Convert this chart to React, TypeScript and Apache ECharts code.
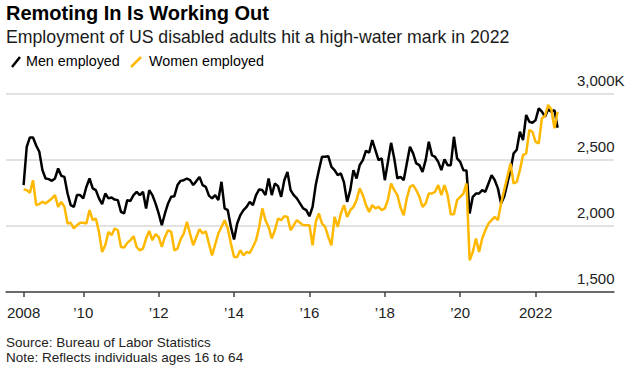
import React, { useEffect, useRef } from "react";
import * as echarts from "echarts";

// Monthly series, starting June 2008 (thousands of people)
const startYear = 2008;
const startMonth = 6;

const menEmployed = [
  2310, 2600, 2671, 2671, 2610, 2562, 2423, 2360, 2355, 2342,
  2360, 2436, 2380, 2372, 2246, 2158, 2145, 2234, 2234, 2209,
  2297, 2360, 2285, 2272, 2209, 2166, 2246, 2209, 2216, 2200,
  2196, 2107, 2095, 2196, 2190, 2234, 2259, 2234, 2259, 2133,
  2272, 2234, 2171, 2095, 2006, 2095, 2171, 2221, 2226, 2310,
  2342, 2347, 2360, 2347, 2310, 2340, 2372, 2310, 2297, 2230,
  2209, 2234, 2196, 2335, 2133, 2120, 1993, 1898, 2019, 2082,
  2120, 2145, 2183, 2158, 2234, 2277, 2272, 2234, 2360, 2234,
  2322, 2302, 2221, 2347, 2410, 2272, 2234, 2209, 2171, 2133,
  2120, 2074, 2145, 2310, 2423, 2524, 2524, 2529, 2448, 2423,
  2385, 2398, 2330, 2183, 2272, 2423, 2360, 2461, 2499, 2570,
  2555, 2651, 2575, 2499, 2512, 2347, 2486, 2630, 2512, 2360,
  2372, 2347, 2474, 2600, 2550, 2474, 2461, 2410, 2499, 2638,
  2537, 2524, 2486, 2423, 2504, 2461, 2461, 2676, 2512, 2486,
  2423, 2420, 2095, 2221, 2246, 2246, 2272, 2259, 2322, 2385,
  2347, 2285, 2171, 2221, 2322, 2423, 2550, 2578, 2714, 2651,
  2841, 2790, 2782, 2802, 2891, 2866, 2828, 2884, 2866, 2878,
  2745,
];

const womenEmployed = [
  2277, 2272, 2251, 2347, 2158, 2166, 2183, 2171, 2190, 2209,
  2234, 2145, 2183, 2145, 2019, 2024, 1981, 2006, 2024, 2024,
  2019, 2120, 2044, 2057, 1955, 1803, 1854, 1955, 1930, 1981,
  1968, 1841, 1837, 1872, 1892, 1923, 1841, 1816, 1829, 1905,
  1963, 1892, 1938, 1917, 1841, 1917, 1968, 1955, 1816, 1829,
  1900, 1943, 2031, 1940, 1854, 1917, 1975, 1943, 1960, 1867,
  1778, 1860, 1943, 1993, 2044, 1981, 1867, 1766, 1766, 1816,
  1778, 1803, 1796, 1841, 1892, 1993, 2133, 2044, 1993, 1905,
  1968, 2057, 2044, 2074, 2069, 1968, 2006, 2044, 2024, 2006,
  2006, 2006, 1854, 2031, 2095, 2019, 1993, 1917, 1854, 2069,
  1993, 2095, 2158, 2069, 2120, 2145, 2196, 2285, 2234, 2158,
  2107, 2158, 2133, 2145, 2120, 2133, 2200, 2322, 2272, 2234,
  2140, 2082, 2210, 2297, 2310, 2272, 2221, 2145, 2171, 2246,
  2246, 2259, 2310, 2234, 2310, 2234, 2089, 2089, 2196, 2221,
  2246, 2322, 1741, 1803, 1905, 1803, 1905, 1968, 2019, 2044,
  2069, 2044, 2171, 2272, 2372, 2474, 2322, 2335, 2423, 2537,
  2550, 2727, 2714, 2638, 2626, 2815, 2835, 2917, 2884, 2740,
  2866,
];

const xTickValues = [2008 + 5 / 12, 2010, 2012, 2014, 2016, 2018, 2020, 2022];
const yMin = 1500;
const yMax = 3000;
const yStep = 500;

const titleText = "Remoting In Is Working Out";
const subtitleText = "Employment of US disabled adults hit a high-water mark in 2022";
const menLabel = "Men employed";
const womenLabel = "Women employed";
const sourceText = "Source: Bureau of Labor Statistics";
const noteText = "Note: Reflects individuals ages 16 to 64";

const FONT = "'Liberation Sans', Arial, Helvetica, sans-serif";
const BLACK = "#000000";
const YELLOW = "#FFB800";

function toYear(i: number) {
  return startYear + (startMonth - 1 + i) / 12;
}

export default function App() {
  const ref = useRef<HTMLDivElement>(null);

  useEffect(() => {
    if (!ref.current) return;
    const chart = echarts.init(ref.current, null, { renderer: "svg" });

    const menData = menEmployed.map((v, i) => [toYear(i), v]);
    const womenData = womenEmployed.map((v, i) => [toYear(i), v]);

    const option: any = {
      animation: false,
      backgroundColor: "#ffffff",
      textStyle: { fontFamily: FONT },
      grid: { left: 6, right: 16, top: 94, bottom: 76, containLabel: false },
      xAxis: {
        type: "value",
        min: 2007.95,
        max: 2024.08,
        axisLine: { show: true, lineStyle: { color: "#444", width: 1.5 } },
        axisTick: {
          show: true,
          length: 5,
          customValues: xTickValues,
          lineStyle: { color: "#444", width: 1.5 },
        },
        axisLabel: {
          customValues: xTickValues,
          margin: 13,
          fontSize: 15,
          color: "#222",
          fontFamily: FONT,
          formatter: (v: number) => {
            const y = Math.round(v);
            if (y === 2008 || y === 2022) return String(y);
            return "\u2019" + String(y).slice(2);
          },
        },
        splitLine: { show: false },
      },
      yAxis: {
        type: "value",
        position: "right",
        min: yMin,
        max: yMax,
        interval: yStep,
        axisLine: { show: false },
        axisTick: { show: false },
        axisLabel: {
          margin: -37,
          align: "left",
          verticalAlign: "bottom",
          padding: [0, 0, 6, 0],
          fontSize: 15,
          color: "#222",
          fontFamily: FONT,
          formatter: (v: number) => {
            const s = v.toLocaleString("en-US");
            return v === yMax ? s + "K" : s;
          },
        },
        splitLine: { show: true, lineStyle: { color: "#d9d9d9", width: 1.5 } },
      },
      series: [
        {
          name: menLabel,
          type: "line",
          data: menData,
          showSymbol: false,
          lineStyle: { color: BLACK, width: 2.5 },
          itemStyle: { color: BLACK },
          z: 2,
        },
        {
          name: womenLabel,
          type: "line",
          data: womenData,
          showSymbol: false,
          lineStyle: { color: YELLOW, width: 2.5 },
          itemStyle: { color: YELLOW },
          z: 3,
        },
      ],
      graphic: [
        {
          type: "text",
          left: 6,
          top: 3,
          style: { text: titleText, font: `bold 20px ${FONT}`, fill: "#000" },
        },
        {
          type: "text",
          left: 6,
          top: 28,
          style: { text: subtitleText, font: `17.7px ${FONT}`, fill: "#1a1a1a" },
        },
        {
          type: "line",
          shape: { x1: 12, y1: 67, x2: 20, y2: 57 },
          style: { stroke: BLACK, lineWidth: 2.5 },
        },
        {
          type: "text",
          left: 26,
          top: 54,
          style: { text: menLabel, font: `14.3px ${FONT}`, fill: "#000" },
        },
        {
          type: "line",
          shape: { x1: 131, y1: 67, x2: 141, y2: 57 },
          style: { stroke: YELLOW, lineWidth: 2.5 },
        },
        {
          type: "text",
          left: 149,
          top: 54,
          style: { text: womenLabel, font: `14.3px ${FONT}`, fill: "#000" },
        },
        {
          type: "text",
          left: 6,
          top: 335,
          style: { text: sourceText, font: `13.5px ${FONT}`, fill: "#222" },
        },
        {
          type: "text",
          left: 6,
          top: 350,
          style: { text: noteText, font: `13.5px ${FONT}`, fill: "#222" },
        },
      ],
    };

    chart.setOption(option);
    return () => chart.dispose();
  }, []);

  return (
    <div
      ref={ref}
      style={{ position: "fixed", left: 0, top: 0, width: 630, height: 368, background: "#fff" }}
    />
  );
}
